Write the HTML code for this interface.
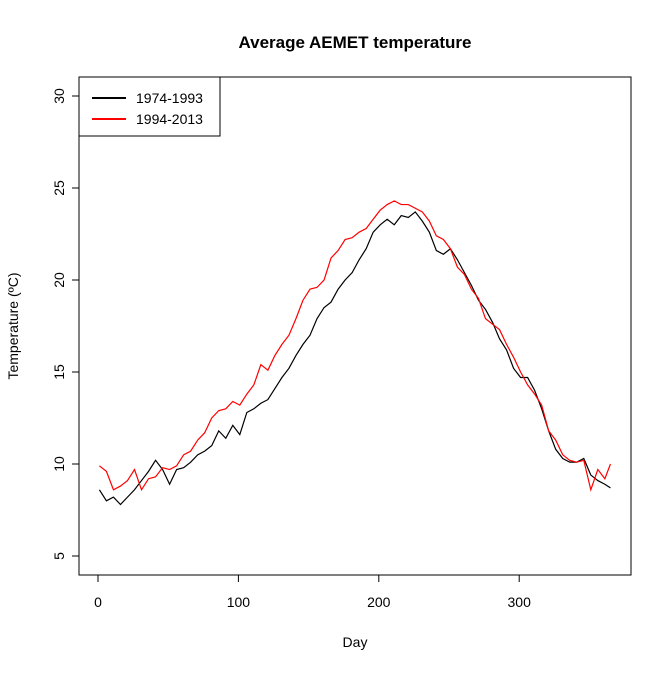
<!DOCTYPE html>
<html><head><meta charset="utf-8"><style>
body{margin:0;background:#fff}
svg text{font-family:"Liberation Sans",Arial,sans-serif}
</style></head><body>
<svg id="chart" width="672" height="672">
<text x="355" y="48" text-anchor="middle" font-size="17" font-weight="bold">Average AEMET temperature</text>
<rect x="79" y="77" width="552" height="498" fill="none" stroke="#000"/>
<g id="xaxis"></g>
<g id="yaxis"></g>
<text x="355" y="647" text-anchor="middle" font-size="14">Day</text>
<text transform="translate(18,326) rotate(-90)" text-anchor="middle" font-size="14">Temperature (ºC)</text>
<g id="series"></g>
<g>
<rect x="79" y="77" width="141" height="59" fill="#fff" stroke="#000"/>
<line x1="92" y1="98" x2="126" y2="98" stroke="#000" stroke-width="2"/>
<text x="136" y="103" font-size="14">1974-1993</text>
<line x1="92" y1="119" x2="126" y2="119" stroke="#f00" stroke-width="2"/>
<text x="136" y="124" font-size="14">1994-2013</text>
</g>
</svg>
<script>
const days=[1,6,11,16,21,26,31,36,41,46,51,56,61,66,71,76,81,86,91,96,101,106,111,116,121,126,131,136,141,146,151,156,161,166,171,176,181,186,191,196,201,206,211,216,221,226,231,236,241,246,251,256,261,266,271,276,281,286,291,296,301,306,311,316,321,326,331,336,341,346,351,356,361,365];
const series1974=[8.6,8.0,8.2,7.8,8.2,8.6,9.1,9.6,10.2,9.7,8.9,9.7,9.8,10.1,10.5,10.7,11.0,11.8,11.4,12.1,11.6,12.8,13.0,13.3,13.5,14.1,14.7,15.2,15.9,16.5,17.0,17.9,18.5,18.8,19.5,20.0,20.4,21.1,21.7,22.6,23.0,23.3,23.0,23.5,23.4,23.7,23.2,22.6,21.6,21.4,21.7,21.1,20.4,19.7,18.9,18.4,17.7,16.8,16.2,15.2,14.7,14.7,14.0,13.0,11.8,10.8,10.3,10.1,10.1,10.3,9.4,9.1,8.9,8.7];
const series1994=[9.9,9.6,8.6,8.8,9.1,9.7,8.6,9.2,9.3,9.8,9.7,9.9,10.5,10.7,11.3,11.7,12.5,12.9,13.0,13.4,13.2,13.8,14.3,15.4,15.1,15.9,16.5,17.0,17.9,18.9,19.5,19.6,20.0,21.2,21.6,22.2,22.3,22.6,22.8,23.3,23.8,24.1,24.3,24.1,24.1,23.9,23.7,23.2,22.4,22.2,21.7,20.7,20.3,19.5,19.0,17.9,17.6,17.3,16.5,15.8,15.0,14.3,13.8,13.2,11.8,11.3,10.5,10.2,10.1,10.2,8.6,9.7,9.2,10.0];
const xTicks=[0,100,200,300];
const yTicks=[5,10,15,20,25,30];
const X=d=>98+d*1.404;
const Y=v=>556-(v-5)*18.4;
const NS="http://www.w3.org/2000/svg";
function mk(tag,attrs,parent){const e=document.createElementNS(NS,tag);for(const k in attrs)e.setAttribute(k,attrs[k]);parent.appendChild(e);return e;}
const xa=document.getElementById('xaxis'),ya=document.getElementById('yaxis'),sg=document.getElementById('series');
mk('line',{x1:X(0),x2:X(300),y1:575,y2:575,stroke:'#000'},xa);
xTicks.forEach(t=>{
 const l=mk('line',{x1:X(t),x2:X(t),y1:575,y2:582,stroke:'#000'},xa);
 
 
 const tx=mk('text',{x:X(t),y:607,'text-anchor':'middle','font-size':14},xa);tx.textContent=t;
 
 
});
yTicks.forEach(t=>{
 const l=mk('line',{x1:72,x2:79,y1:Y(t),y2:Y(t),stroke:'#000'},ya);
 
 
 const tx=mk('text',{transform:`translate(64,${Y(t)}) rotate(-90)`,'text-anchor':'middle','font-size':14},ya);tx.textContent=t;
 
 
});
function line(vals,color,name){
 const p=mk('polyline',{points:vals.map((v,i)=>X(days[i])+','+Y(v)).join(' '),fill:'none',stroke:color,'stroke-width':1.2},sg);
 
 
}
line(series1974,'#000','line-1974-1993');
line(series1994,'#f00','line-1994-2013');
</script>
</body></html>
